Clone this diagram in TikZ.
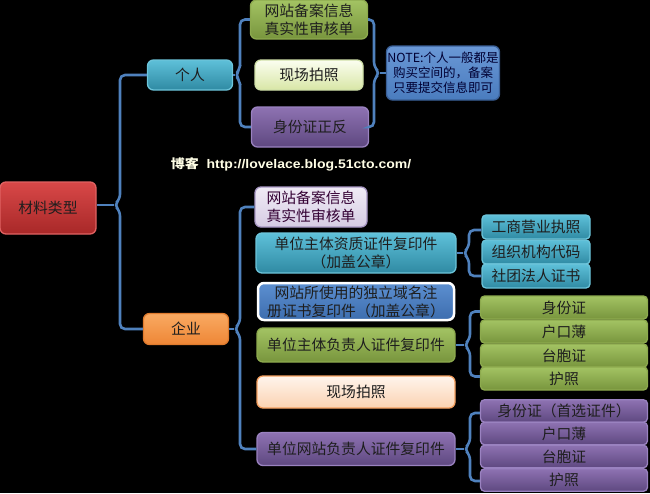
\documentclass[tikz,border=0pt]{standalone}
\usepackage{fontspec}
\setmainfont{Liberation Sans}
\newfontfamily\cjk{Noto Sans CJK SC}
\definecolor{linec}{HTML}{4F81BD}
\definecolor{txt}{HTML}{1E1E1E}
\definecolor{redT}{HTML}{D84848}\definecolor{redB}{HTML}{A82828}\definecolor{redD}{HTML}{E06262}
\definecolor{tealT}{HTML}{5EC0D9}\definecolor{tealB}{HTML}{2F8AA3}\definecolor{tealD}{HTML}{6CC4DA}
\definecolor{oraT}{HTML}{F9AA62}\definecolor{oraB}{HTML}{EE8636}\definecolor{oraD}{HTML}{E07B2E}
\definecolor{grnT}{HTML}{A3C363}\definecolor{grnB}{HTML}{78953D}\definecolor{grnD}{HTML}{8DAA4E}
\definecolor{purT}{HTML}{8E72B2}\definecolor{purB}{HTML}{5E4880}\definecolor{purD}{HTML}{9A82C0}
\definecolor{lavT}{HTML}{F0EBF5}\definecolor{lavB}{HTML}{D6CCE4}\definecolor{lavD}{HTML}{A898C4}
\definecolor{lgT}{HTML}{FBFEF0}\definecolor{lgB}{HTML}{D8E6A6}\definecolor{lgD}{HTML}{D0E0A8}
\definecolor{peaT}{HTML}{FFF4EC}\definecolor{peaB}{HTML}{FBD3B2}\definecolor{peaD}{HTML}{F5A060}
\definecolor{bluT}{HTML}{5C8FD0}\definecolor{bluB}{HTML}{3D6DAE}
\definecolor{notT}{HTML}{6A98D6}\definecolor{notB}{HTML}{4A7CBE}\definecolor{notD}{HTML}{3A5F96}
\tikzset{
  conn/.style={draw=linec, line width=2.6pt, rounded corners=5pt},
  box/.style={rounded corners=6pt, line width=1.3pt, align=center, inner sep=0pt,
    text=txt, font=\cjk\fontsize{14.8}{18}\selectfont},
  redbox/.style={box, draw=redD, top color=redT, bottom color=redB},
  tealbox/.style={box, draw=tealD, top color=tealT, bottom color=tealB},
  orangebox/.style={box, draw=oraD, top color=oraT, bottom color=oraB},
  greenbox/.style={box, draw=grnD, top color=grnT, bottom color=grnB},
  purplebox/.style={box, draw=purD, top color=purT, bottom color=purB},
  lavbox/.style={box, draw=lavD, top color=lavT, bottom color=lavB, text=violet!40!black},
  lightgreenbox/.style={box, draw=lgD, top color=lgT, bottom color=lgB},
  peachbox/.style={box, draw=peaD, top color=peaT, bottom color=peaB},
  bluebox/.style={box, draw=white, line width=2.5pt, top color=bluT, bottom color=bluB},
  notebox/.style={box, draw=notD, top color=notT, bottom color=notB,
    text=blue!20!black, font=\cjk\fontsize{12.5}{15}\selectfont},
}
\begin{document}
\begin{tikzpicture}[x=1pt,y=-1pt]
\fill[black] (0,0) rectangle (650,493);
\useasboundingbox (0,0) rectangle (650,493);

% main nodes
\node[redbox, minimum width=96pt, minimum height=52pt] (root) at (48,208) {材料类型};
\node[tealbox, minimum width=85pt, minimum height=30pt] (geren) at (190,75) {个人};
\node[orangebox, minimum width=85pt, minimum height=31pt] (qiye) at (186,329) {企业};

% personal
\node[greenbox, minimum width=117pt, minimum height=39pt] (p1) at (309,19.5) {网站备案信息\\真实性审核单};
\node[lightgreenbox, minimum width=108pt, minimum height=30pt] (p2) at (309,75) {现场拍照};
\node[purplebox, minimum width=117pt, minimum height=40pt] (p3) at (310,127) {身份证正反};
\node[notebox, minimum width=113pt, minimum height=54pt] (note) at (443,73) {NOTE:个人一般都是\\购买空间的，备案\\只要提交信息即可};

% watermark
\node[text=white!90!yellow, font=\fontsize{12.5}{14}\selectfont\bfseries] (wm) at (291,164)
  {\scalebox{1.12}[1]{{\cjk 博客}\ \ http://lovelace.blog.51cto.com/}};

% enterprise
\node[lavbox, minimum width=112pt, minimum height=40pt] (e1) at (311,207) {网站备案信息\\真实性审核单};
\node[tealbox, minimum width=200pt, minimum height=40pt] (e2) at (356,253) {单位主体资质证件复印件\\（加盖公章）};
\node[bluebox, minimum width=196pt, minimum height=37pt] (e3) at (356,301.5) {网站所使用的独立域名注\\册证书复印件（加盖公章）};
\node[greenbox, minimum width=198pt, minimum height=34pt] (e4) at (356,345) {单位主体负责人证件复印件};
\node[peachbox, minimum width=198pt, minimum height=32pt] (e5) at (356,392) {现场拍照};
\node[purplebox, minimum width=198pt, minimum height=33pt] (e6) at (356,449) {单位网站负责人证件复印件};

% sub items 1
\tikzset{sub/.style={minimum width=108pt, minimum height=24pt, rounded corners=4pt}}
\node[tealbox, sub] (s1a) at (536,227) {工商营业执照};
\node[tealbox, sub] (s1b) at (536,252) {组织机构代码};
\node[tealbox, sub] (s1c) at (536,276) {社团法人证书};

% sub items 2
\tikzset{subw/.style={minimum width=167pt, minimum height=23pt, rounded corners=4pt}}
\node[greenbox, subw] (s2a) at (564,307.5) {身份证};
\node[greenbox, subw] (s2b) at (564,331.5) {户口薄};
\node[greenbox, subw] (s2c) at (564,355.5) {台胞证};
\node[greenbox, subw] (s2d) at (564,378.5) {护照};

% sub items 3
\node[purplebox, subw, minimum height=22.5pt] (s3a) at (564,411) {身份证（首选证件）};
\node[purplebox, subw, minimum height=22.5pt] (s3b) at (564,433.5) {户口薄};
\node[purplebox, subw, minimum height=22.5pt] (s3c) at (564,456.5) {台胞证};
\node[purplebox, subw, minimum height=22.5pt] (s3d) at (564,480) {护照};

% brackets
\coordinate (t0) at (114,205);
\draw[conn] (geren.west) -| (120,199) -- (t0) -- (120,211) |- (qiye.west);
\draw[conn] (t0 -| root.east) -- (t0);

\coordinate (t1) at (235,75);
\draw[conn] (p1.west) -| (240,69) -- (t1) -- (240,81) |- (p3.west);
\draw[conn] (geren.east) -- (t1);

\coordinate (t2) at (380,73);
\draw[conn] (p1.east) -| (374,67) -- (t2) -- (374,79) |- (p3.east);
\draw[conn] (t2) -- (note.west);

\coordinate (t3) at (234,329);
\draw[conn] (e1.west) -| (240,323) -- (t3) -- (240,335) |- (e6.west);
\draw[conn] (qiye.east) -- (t3);

\coordinate (t4) at (463,253);
\draw[conn] ([yshift=-3pt]s1a.west) -| (469,247) -- (t4) -- (469,259) |- (s1c.west);
\draw[conn] (e2.east) -- (t4);

\coordinate (t5) at (464,345);
\draw[conn] ([yshift=-4pt]s2a.west) -| (470,339) -- (t5) -- (470,351) |- ([yshift=2pt]s2d.west);
\draw[conn] (e4.east) -- (t5);

\coordinate (t6) at (464,449);
\draw[conn] ([yshift=-2pt]s3a.west) -| (470,443) -- (t6) -- (470,455) |- ([yshift=-1pt]s3d.west);
\draw[conn] (e6.east) -- (t6);
\end{tikzpicture}
\end{document}
